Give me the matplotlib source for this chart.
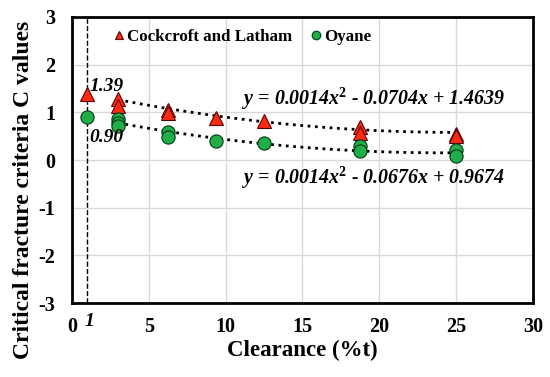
import numpy as np
import matplotlib.pyplot as plt
import matplotlib.ticker

plt.rcParams['font.family'] = ['Liberation Serif', 'DejaVu Serif']
plt.rcParams['font.weight'] = 'bold'
plt.rcParams['axes.unicode_minus'] = False
plt.rcParams['mathtext.fontset'] = 'custom'
plt.rcParams['mathtext.it'] = 'Liberation Serif:italic:bold'
plt.rcParams['mathtext.rm'] = 'Liberation Serif:bold'
plt.rcParams['mathtext.bf'] = 'Liberation Serif:bold'

# clearance (%t) and critical fracture criteria values
cl_x = [1, 3, 3, 6.25, 6.25, 9.4, 12.5, 18.75, 18.75, 25, 25]
cl_y = [1.39, 1.28, 1.13, 1.05, 0.98, 0.88, 0.82, 0.70, 0.57, 0.55, 0.50]
oy_x = [1, 3, 3, 3, 6.25, 6.25, 9.4, 12.5, 18.75, 18.75, 25, 25]
oy_y = [0.90, 0.86, 0.78, 0.71, 0.59, 0.49, 0.39, 0.36, 0.29, 0.18, 0.20, 0.08]

# polynomial trendlines (from the chart)
cl_fit = [0.0014, -0.0704, 1.4639]
oy_fit = [0.0014, -0.0676, 0.9674]

fig = plt.figure(figsize=(5.5, 3.77), dpi=100)
ax = fig.add_axes([0.131, 0.196, 0.838, 0.759])

xf = np.linspace(3, 25, 100)
ax.plot(xf, np.polyval(cl_fit, xf), ':', color='black', lw=2, zorder=2)
ax.plot(xf, np.polyval(oy_fit, xf), ':', color='black', lw=2, zorder=2)

ax.plot(cl_x, cl_y, '^', ms=9.5, mfc='#ff2a10', mec='#5a0000', mew=0.8, ls='none',
        label='Cockcroft and Latham', zorder=3)
ax.plot(oy_x, oy_y, 'o', ms=9.5, mfc='#1fae4a', mec='#003a10', mew=0.8, ls='none',
        label='Oyane', zorder=3)

ax.axvline(1, color='black', ls='--', lw=1, zorder=1)

ax.text(1.15, 1.55, '1.39', style='italic', fontsize=14, ha='left', va='center')
ax.text(1.15, 0.48, '0.90', style='italic', fontsize=14, ha='left', va='center')
ax.text(19.6, 1.28, r'y = 0.0014x$^{2}$ - 0.0704x + 1.4639', style='italic',
        fontsize=14.3, ha='center', va='center')
ax.text(19.6, -0.38, r'y = 0.0014x$^{2}$ - 0.0676x + 0.9674', style='italic',
        fontsize=14.3, ha='center', va='center')
ax.text(1.1, -3.2, '1', style='italic', fontsize=14, ha='center', va='top')

ax.set_xlim(0, 30)
ax.set_ylim(-3, 3)
ax.xaxis.set_major_locator(matplotlib.ticker.MultipleLocator(5))
ax.yaxis.set_major_locator(matplotlib.ticker.MultipleLocator(1))
ax.grid(color='#d9d9d9', lw=1)
ax.set_axisbelow(True)
ax.tick_params(length=0, labelsize=14.5)
ax.tick_params(axis='y', pad=12)
ax.tick_params(axis='x', pad=10)
for s in ax.spines.values():
    s.set_linewidth(2)

ax.set_xlabel('Clearance (%t)', fontsize=16.5, fontweight='bold', labelpad=2)
ax.set_ylabel('Critical fracture criteria C values', fontsize=17, fontweight='bold')
ax.yaxis.set_label_coords(-0.082, 0.395)

ax.legend(loc='upper left', bbox_to_anchor=(0.057, 1.01), ncol=2, frameon=False,
          fontsize=12.2, handlelength=0.6, handletextpad=0.2, columnspacing=1.1,
          markerscale=0.65)

fig.savefig('out.png', dpi=100)
